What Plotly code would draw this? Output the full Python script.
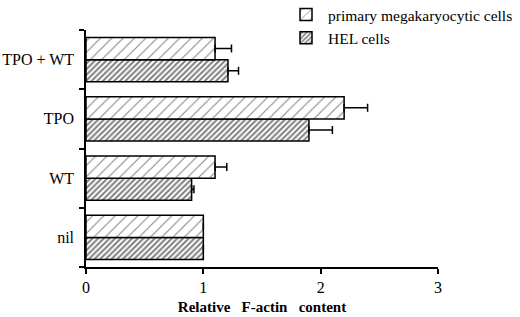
import plotly.graph_objects as go

categories = ["nil", "WT", "TPO", "TPO + WT"]
primary_vals = [1.0, 1.1, 2.2, 1.1]
primary_err = [0.0, 0.1, 0.2, 0.14]
hel_vals = [1.0, 0.9, 1.9, 1.21]
hel_err = [0.0, 0.02, 0.2, 0.09]
x_ticks = [0, 1, 2, 3]

FONT = "Liberation Serif, Times New Roman, serif"

fig = go.Figure()
fig.add_trace(go.Bar(
    name="HEL cells", y=categories, x=hel_vals, orientation="h",
    marker=dict(color="white", line=dict(color="black", width=1.5),
                pattern=dict(shape="/", fgcolor="black", bgcolor="white", size=4, solidity=0.5)),
    error_x=dict(type="data", array=hel_err, color="black", thickness=1.5, width=4, symmetric=False,
                 arrayminus=[0]*4),
))
fig.add_trace(go.Bar(
    name="primary megakaryocytic cells", y=categories, x=primary_vals, orientation="h",
    marker=dict(color="white", line=dict(color="black", width=1.5),
                pattern=dict(shape="/", fgcolor="black", bgcolor="white", size=8, solidity=0.12)),
    error_x=dict(type="data", array=primary_err, color="black", thickness=1.5, width=4, symmetric=False,
                 arrayminus=[0]*4),
))

fig.update_layout(
    width=520, height=317,
    margin=dict(l=86, r=82, t=30, b=50, autoexpand=False),
    paper_bgcolor="white", plot_bgcolor="white",
    barmode="group", bargap=0.25, bargroupgap=0,
    font=dict(family=FONT, size=16, color="black"),
    showlegend=True,
    legend=dict(x=0.5625, y=1.135, xanchor="left", yanchor="top",
                traceorder="reversed",
                font=dict(family=FONT, size=15.5, color="black"), bgcolor="rgba(0,0,0,0)",
                itemwidth=34, tracegroupgap=0),
    xaxis=dict(range=[0, 3], tickvals=x_ticks, ticktext=[str(t) for t in x_ticks],
               showgrid=False, zeroline=False, showline=True, linecolor="black", linewidth=1.5,
               ticks="outside", ticklen=5, tickcolor="black", tickwidth=1.5,
               tickfont=dict(family=FONT, size=16),
               title=dict(text="<b>Relative\u00a0\u00a0\u00a0F-actin\u00a0\u00a0\u00a0content</b>",
                          font=dict(family=FONT, size=15), standoff=7)),
    yaxis=dict(range=[-0.5, 3.5], showgrid=False, zeroline=False, showline=True,
               linecolor="black", linewidth=1.5, ticks="outside", tickson="boundaries",
               ticklen=5, tickcolor="black", tickwidth=1.5, ticklabelstandoff=7,
               tickfont=dict(family=FONT, size=16)),
)

fig.write_html("out.html", config={"displayModeBar": False},
               post_script="document.body.style.margin='0';")
